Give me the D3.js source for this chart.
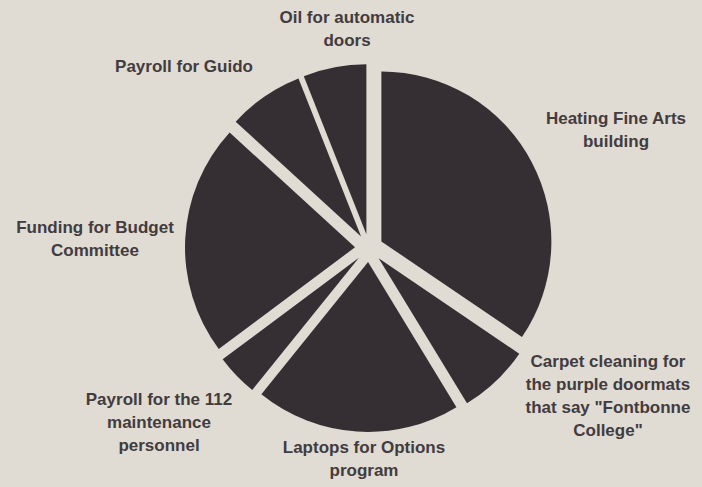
<!DOCTYPE html>
<html>
<head>
<meta charset="utf-8">
<script src="https://cdnjs.cloudflare.com/ajax/libs/d3/7.8.5/d3.min.js"></script>
<style>
  html, body { margin: 0; padding: 0; background: #e0dbd3; }
  svg { display: block; }
  .lbl { font-family: "Liberation Sans", Arial, sans-serif; font-size: 17px; font-weight: bold; fill: #423c3f; }
</style>
</head>
<body>
<div id="chart"></div>
<script>
// budget items, clockwise from 12 o'clock
const categories = [
    "Heating Fine Arts building",
    "Carpet cleaning for the purple doormats that say \"Fontbonne College\"",
    "Laptops for Options program",
    "Payroll for the 112 maintenance personnel",
    "Funding for Budget Committee",
    "Payroll for Guido",
    "Oil for automatic doors"
];
const shares = [34.5, 6.8, 19.5, 4.0, 22.0, 7.2, 6.0];
const labelLines = [
    ["Heating Fine Arts", "building"],
    ["Carpet cleaning for", "the purple doormats", "that say \"Fontbonne", "College\""],
    ["Laptops for Options", "program"],
    ["Payroll for the 112", "maintenance", "personnel"],
    ["Funding for Budget", "Committee"],
    ["Payroll for Guido"],
    ["Oil for automatic", "doors"]
];

// where each label block sits (center x, first baseline y)
const labelAnchor = [[616, 124], [608, 367], [364, 453], [159, 405], [95, 233], [184, 72], [347, 23]];

const width = 702, height = 487;
const cx = 369, cy = 248, radius = 170, explode = 14;

const svg = d3.select("#chart").append("svg")
    .attr("width", width)
    .attr("height", height);

const pie = d3.pie().sort(null).value(d => d);
const arc = d3.arc().innerRadius(0).outerRadius(radius);

const arcs = pie(shares);

svg.append("g")
    .attr("transform", `translate(${cx},${cy})`)
    .selectAll("path")
    .data(arcs)
    .join("path")
    .attr("d", arc)
    .attr("fill", "#352f33")
    .attr("transform", d => {
        const mid = (d.startAngle + d.endAngle) / 2;
        return `translate(${Math.sin(mid) * explode},${-Math.cos(mid) * explode})`;
    })
    .append("title")
    .text((d, i) => categories[i]);

const labels = svg.append("g")
    .selectAll("text")
    .data(labelLines)
    .join("text")
    .attr("class", "lbl")
    .attr("text-anchor", "middle")
    .attr("x", (d, i) => labelAnchor[i][0])
    .attr("y", (d, i) => labelAnchor[i][1]);

labels.selectAll("tspan")
    .data((d, i) => d.map(line => ({line, i})))
    .join("tspan")
    .attr("x", d => labelAnchor[d.i][0])
    .attr("dy", (d, j) => j === 0 ? 0 : 23)
    .text(d => d.line);
</script>
</body>
</html>
